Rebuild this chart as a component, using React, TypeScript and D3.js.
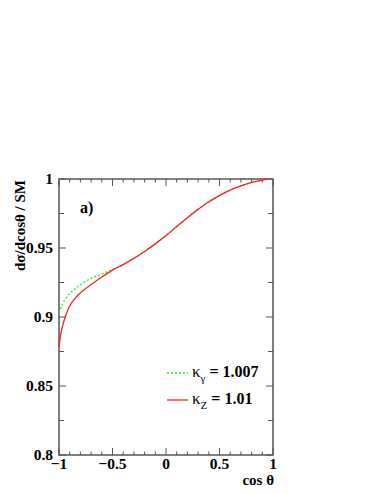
import React, { useEffect, useRef } from 'react';
import * as d3 from 'd3';

const cosTheta = [-1, -0.98, -0.95, -0.9, -0.85, -0.8, -0.7, -0.6, -0.5, -0.4, -0.3, -0.2, -0.1, 0, 0.1, 0.2, 0.3, 0.4, 0.5, 0.6, 0.7, 0.8, 0.9, 0.95];
const kappaZ = [0.878, 0.889, 0.898, 0.908, 0.9135, 0.9175, 0.9235, 0.929, 0.934, 0.938, 0.9425, 0.9475, 0.953, 0.959, 0.9655, 0.972, 0.978, 0.9835, 0.988, 0.992, 0.995, 0.9975, 0.9992, 1.0];
const kappaGamma = [0.903, 0.907, 0.912, 0.917, 0.9205, 0.9235, 0.928, 0.931, 0.9345, 0.938, 0.9425, 0.9475, 0.953, 0.959, 0.9655, 0.972, 0.978, 0.9835, 0.988, 0.992, 0.995, 0.9975, 0.9992, 1.0];

const xTicks = [-1, -0.5, 0, 0.5, 1];
const yTicks = [0.8, 0.85, 0.9, 0.95, 1];

const W = 382;
const H = 494;

const App: React.FC = () => {
  const svgRef = useRef<SVGSVGElement>(null);

  useEffect(() => {
    if (!svgRef.current) return;
    const svg = d3.select(svgRef.current);
    svg.selectAll('*').remove();

    const x = d3.scaleLinear().domain([-1, 1]).range([59, 273]);
    const y = d3.scaleLinear().domain([0.8, 1]).range([455, 179]);
    const font = 'Liberation Serif, DejaVu Serif, serif';
    const axisColor = '#555';

    // frame
    svg.append('rect')
      .attr('x', x(-1)).attr('y', y(1))
      .attr('width', x(1) - x(-1)).attr('height', y(0.8) - y(1))
      .attr('fill', 'none').attr('stroke', axisColor).attr('stroke-width', 1.5);

    // x ticks, bottom and top, pointing inward
    const xMinor = d3.range(-10, 11).map(i => i / 10);
    xMinor.forEach(v => {
      const major = xTicks.some(t => Math.abs(t - v) < 1e-9);
      const len = major ? 7 : 3.5;
      svg.append('line').attr('x1', x(v)).attr('x2', x(v))
        .attr('y1', y(0.8)).attr('y2', y(0.8) - len)
        .attr('stroke', axisColor).attr('stroke-width', 1);
      svg.append('line').attr('x1', x(v)).attr('x2', x(v))
        .attr('y1', y(1)).attr('y2', y(1) + len)
        .attr('stroke', axisColor).attr('stroke-width', 1);
    });

    // y ticks, left and right
    const yMinor = d3.range(0, 9).map(i => 0.8 + i * 0.025);
    yMinor.forEach(v => {
      const major = yTicks.some(t => Math.abs(t - v) < 1e-9);
      const len = major ? 7 : 5;
      svg.append('line').attr('x1', x(-1)).attr('x2', x(-1) + len)
        .attr('y1', y(v)).attr('y2', y(v))
        .attr('stroke', axisColor).attr('stroke-width', 1);
      svg.append('line').attr('x1', x(1)).attr('x2', x(1) - len)
        .attr('y1', y(v)).attr('y2', y(v))
        .attr('stroke', axisColor).attr('stroke-width', 1);
    });

    // tick labels
    svg.selectAll('.xl').data(xTicks).enter().append('text')
      .attr('x', d => x(d)).attr('y', 469)
      .attr('text-anchor', 'middle')
      .attr('font-family', font).attr('font-weight', 'bold').attr('font-size', 15.5)
      .text(d => d3.format('')(d));

    svg.selectAll('.yl').data(yTicks).enter().append('text')
      .attr('x', 53).attr('y', d => y(d) + 5)
      .attr('text-anchor', 'end')
      .attr('font-family', font).attr('font-weight', 'bold').attr('font-size', 15.5)
      .text(d => d3.format('')(d));

    // axis titles
    svg.append('text')
      .attr('x', 274).attr('y', 485)
      .attr('text-anchor', 'end')
      .attr('font-family', font).attr('font-weight', 'bold').attr('font-size', 15)
      .text('cos θ');

    svg.append('text')
      .attr('transform', 'translate(25,180) rotate(-90)')
      .attr('text-anchor', 'end')
      .attr('font-family', font).attr('font-weight', 'bold').attr('font-size', 15)
      .text('dσ/dcosθ / SM');

    svg.append('text')
      .attr('x', 80).attr('y', 213)
      .attr('font-family', font).attr('font-weight', 'bold').attr('font-size', 16)
      .text('a)');

    // curves
    const line = d3.line<number>()
      .x((_, i) => x(cosTheta[i]))
      .y(d => y(d))
      .curve(d3.curveCatmullRom.alpha(0.5));

    svg.append('path')
      .attr('d', line(kappaGamma) as string)
      .attr('fill', 'none').attr('stroke', '#22ee22').attr('stroke-width', 1.3)
      .attr('stroke-dasharray', '2,2');

    svg.append('path')
      .attr('d', line(kappaZ) as string)
      .attr('fill', 'none').attr('stroke', '#ff2020').attr('stroke-width', 1.3);

    // legend
    const legend = [
      { label: 'κ', sub: 'γ', value: ' = 1.007', color: '#22ee22', dash: '2,2', ly: 373 },
      { label: 'κ', sub: 'Z', value: ' = 1.01', color: '#ff2020', dash: null, ly: 400 },
    ];
    legend.forEach(l => {
      svg.append('line').attr('x1', 167).attr('x2', 188).attr('y1', l.ly).attr('y2', l.ly)
        .attr('stroke', l.color).attr('stroke-width', 1.3)
        .attr('stroke-dasharray', l.dash);
      const t = svg.append('text').attr('x', 192).attr('y', l.ly + 4)
        .attr('font-family', font).attr('font-weight', 'bold').attr('font-size', 16);
      t.append('tspan').attr('font-weight', 'normal').attr('font-size', 17).text(l.label);
      t.append('tspan').attr('dy', 5).attr('font-size', 11).attr('font-weight', 'normal').text(l.sub);
      t.append('tspan').attr('dy', -5).text(l.value);
    });
  }, []);

  return (
    <svg
      ref={svgRef}
      width={W}
      height={H}
      style={{ position: 'absolute', left: 0, top: 0, background: 'white' }}
    ></svg>
  );
};

export default App;
